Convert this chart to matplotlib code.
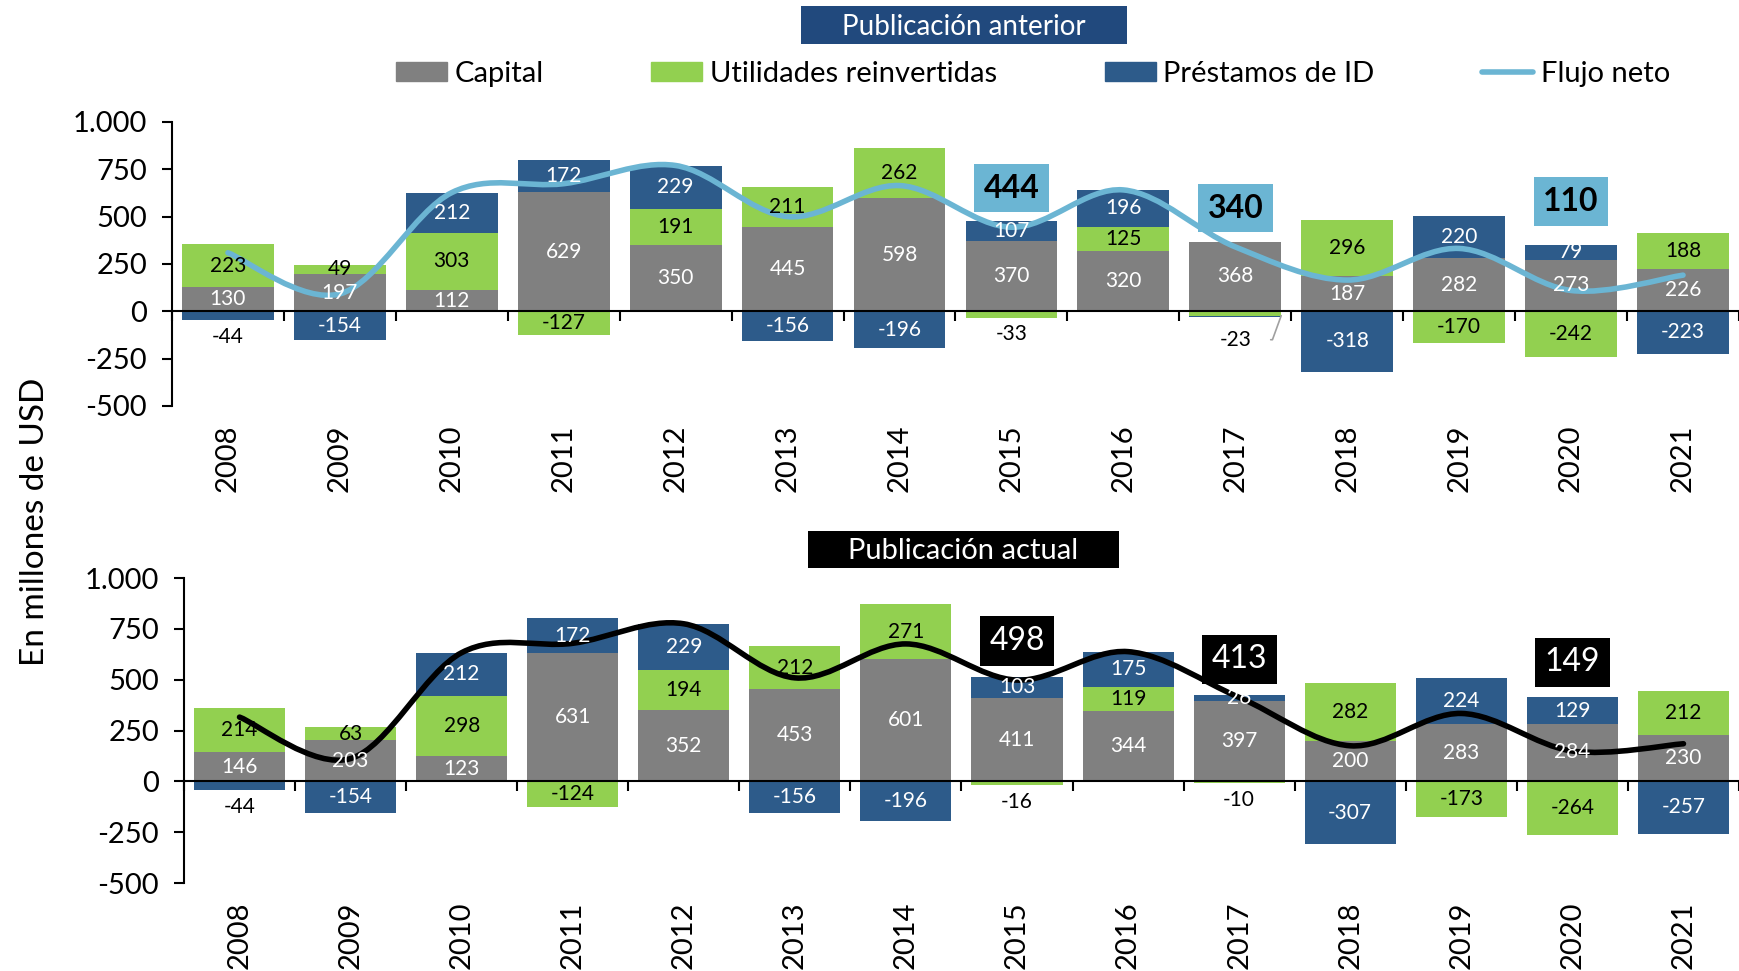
import matplotlib
matplotlib.use('Agg')
import matplotlib.pyplot as plt
import numpy as np
from matplotlib.path import Path
from matplotlib.patches import PathPatch, Rectangle, Patch
from matplotlib.lines import Line2D
from matplotlib.ticker import FuncFormatter

plt.rcParams['font.family'] = ['Lato', 'DejaVu Sans']

years = ['2008', '2009', '2010', '2011', '2012', '2013', '2014',
         '2015', '2016', '2017', '2018', '2019', '2020', '2021']

# publicacion anterior
cap_old = [130, 197, 112, 629, 350, 445, 598, 370, 320, 368, 187, 282, 273, 226]
util_old = [223, 49, 303, -127, 191, 211, 262, -33, 125, -23, 296, -170, -242, 188]
prest_old = [-44, -154, 212, 172, 229, -156, -196, 107, 196, -5, -318, 220, 79, -223]
net_old = [309, 92, 627, 674, 770, 500, 664, 444, 641, 340, 165, 332, 110, 191]

# publicacion actual
cap_new = [146, 203, 123, 631, 352, 453, 601, 411, 344, 397, 200, 283, 284, 230]
util_new = [214, 63, 298, -124, 194, 212, 271, -16, 119, -10, 282, -173, -264, 212]
prest_new = [-44, -154, 212, 172, 229, -156, -196, 103, 175, 26, -307, 224, 129, -257]
net_new = [316, 112, 633, 679, 775, 509, 676, 498, 638, 413, 175, 334, 149, 185]

# highlighted net values (year index -> y position of the box)
boxes_old = {7: 650, 9: 545, 12: 580}
boxes_new = {7: 690, 9: 600, 12: 585}

GRAY = '#808080'
GREEN = '#92D050'
BLUE = '#2D5B8A'
LIGHT = '#6BB5D3'
NAVY = '#21497D'


def smooth_path(xs, ys):
    # catmull-rom style bezier through the points (like excel smoothed line)
    verts = [(xs[0], ys[0])]
    codes = [Path.MOVETO]
    n = len(xs)
    for i in range(n - 1):
        a = i - 1 if i > 0 else i
        d = i + 2 if i + 2 < n else i + 1
        c1 = (xs[i] + (xs[i + 1] - xs[a]) / 6.0, ys[i] + (ys[i + 1] - ys[a]) / 6.0)
        c2 = (xs[i + 1] - (xs[d] - xs[i]) / 6.0, ys[i + 1] - (ys[d] - ys[i]) / 6.0)
        verts += [c1, c2, (xs[i + 1], ys[i + 1])]
        codes += [Path.CURVE4] * 3
    return Path(verts, codes)


def panel(ax, cap, util, prest, net, line_color, boxes, box_fc, box_tc, box_weight,
          xmax, leader=()):
    x = np.arange(len(years))
    w = 0.82
    pos = np.zeros(len(years))
    neg = np.zeros(len(years))
    series = [(cap, GRAY, 'white'), (util, GREEN, 'black'), (prest, BLUE, 'white')]
    for vals, col, tc in series:
        v = np.array(vals, dtype=float)
        bottom = np.where(v >= 0, pos, neg)
        ax.bar(x, v, w, bottom=bottom, color=col, zorder=1)
        for i in range(len(v)):
            if abs(v[i]) < 8:
                continue
            if v[i] < 0 and abs(v[i]) < 50:
                if i in leader:
                    ax.annotate('%d' % v[i], xy=(i + w / 2, neg[i] + v[i]), xytext=(i, -150),
                                ha='center', va='center', fontsize=15, color='black', zorder=7,
                                arrowprops=dict(arrowstyle='-', color='#A0A0A0', lw=1.2,
                                                shrinkA=12, shrinkB=0,
                                                connectionstyle='angle,angleA=0,angleB=70'))
                else:
                    ax.annotate('%d' % v[i], xy=(i, neg[i] + v[i]), xytext=(0, -5),
                                textcoords='offset points', ha='center', va='top',
                                fontsize=15, color='black', zorder=7)
            else:
                ax.text(i, bottom[i] + v[i] / 2, '%d' % v[i], ha='center', va='center',
                        fontsize=15, color=tc, zorder=7)
        pos = np.where(v >= 0, pos + v, pos)
        neg = np.where(v < 0, neg + v, neg)

    ax.add_patch(PathPatch(smooth_path(x, net), fill=False, edgecolor=line_color,
                           lw=4, capstyle='round', zorder=5))

    for i, yb in boxes.items():
        ax.text(i, yb, '%d' % net[i], ha='center', va='center', fontsize=23,
                color=box_tc, fontweight=box_weight, zorder=8,
                bbox=dict(boxstyle='square,pad=0.3', fc=box_fc, ec='none'))

    ax.set_ylim(-500, 1000)
    ax.set_xlim(-0.5, xmax)
    ax.set_yticks([-500, -250, 0, 250, 500, 750, 1000])
    ax.yaxis.set_major_formatter(FuncFormatter(
        lambda v, p: ('%d' % v) if abs(v) < 1000 else '{:,}'.format(int(v)).replace(',', '.')))
    ax.tick_params(axis='y', length=7, width=1.5, labelsize=21, pad=11)
    ax.spines['top'].set_visible(False)
    ax.spines['right'].set_visible(False)
    ax.spines['left'].set_linewidth(1.5)
    ax.spines['bottom'].set_position(('data', 0))
    ax.spines['bottom'].set_linewidth(1.5)
    ax.set_xticks(np.arange(-0.5, 14, 1))
    ax.tick_params(axis='x', length=7, width=1.5, labelbottom=False)
    for i, yr in enumerate(years):
        ax.annotate(yr, xy=(i, 0), xycoords=('data', 'axes fraction'), xytext=(0, -13),
                    textcoords='offset points', ha='center', va='top', rotation=90,
                    fontsize=21, color='black', annotation_clip=False)


fig = plt.figure(figsize=(17.39, 9.71), dpi=100)
ax1 = fig.add_axes([0.0989, 0.5819, 0.9011, 0.2925])
ax2 = fig.add_axes([0.1058, 0.0906, 0.8942, 0.3141])

panel(ax1, cap_old, util_old, prest_old, net_old, LIGHT, boxes_old, LIGHT, 'black', 'bold',
      13.38, leader=(9,))
panel(ax2, cap_new, util_new, prest_new, net_new, 'black', boxes_new, 'black', 'white', 'normal',
      13.32)

# title boxes
fig.patches.append(Rectangle((0.4606, 0.9547), 0.1875, 0.0391, transform=fig.transFigure,
                             facecolor=NAVY, edgecolor='none'))
fig.text(0.5543, 0.9720, 'Publicación anterior', ha='center', va='center', color='white', fontsize=20)
fig.patches.append(Rectangle((0.4646, 0.4150), 0.1788, 0.0381, transform=fig.transFigure,
                             facecolor='black', edgecolor='none'))
fig.text(0.5540, 0.4330, 'Publicación actual', ha='center', va='center', color='white', fontsize=21)

handles = [Patch(color=GRAY, label='Capital'),
           Patch(color=GREEN, label='Utilidades reinvertidas'),
           Patch(color=BLUE, label='Préstamos de ID'),
           Line2D([], [], color=LIGHT, lw=4, solid_capstyle='round', label='Flujo neto')]
fig.legend(handles=handles, loc='center', bbox_to_anchor=(0.594, 0.924), ncol=4, frameon=False,
           fontsize=21, handlelength=1.75, handleheight=0.6, handletextpad=0.25, columnspacing=3.7)

fig.text(0.02, 0.463, 'En millones de USD', rotation=90, ha='center', va='center', fontsize=24)

fig.savefig('out.png', dpi=100)
